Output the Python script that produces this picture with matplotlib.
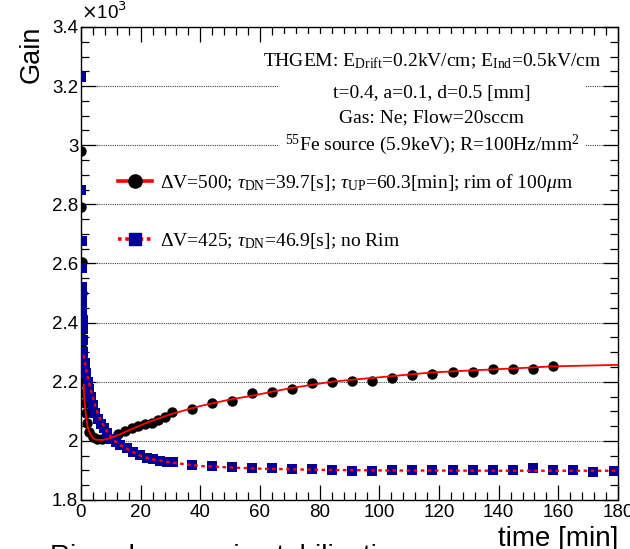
import matplotlib
matplotlib.use("Agg")
import matplotlib.pyplot as plt
from matplotlib.lines import Line2D
from matplotlib.patches import Rectangle
from matplotlib.ticker import MultipleLocator, FuncFormatter

plt.rcParams['font.family'] = ['Liberation Sans', 'DejaVu Sans']
plt.rcParams['mathtext.fontset'] = 'custom'
plt.rcParams['mathtext.rm'] = 'Liberation Serif'
plt.rcParams['mathtext.it'] = 'Liberation Serif:italic'

# dV = 500 V, rim of 100 um
t500 = [0.05, 0.1, 0.2, 0.3, 0.4, 0.5, 0.55, 0.65, 0.8, 1.0, 1.3, 1.6, 2.0, 2.6,
        3.9, 5.4, 7.0, 9.3, 12.4, 14.7, 17.1, 19.1, 21.5, 23.7, 25.9, 28.2, 30.4,
        37.1, 43.8, 50.5, 57.2, 63.9, 70.6, 77.3, 84.0, 90.7, 97.4, 104.1, 110.8,
        117.5, 124.8, 131.5, 138.2, 144.9, 151.6, 158.3]
g500 = [2980, 2790, 2606, 2500, 2348, 2314, 2274, 2240, 2200, 2162, 2128, 2094, 2060, 2030,
        2013, 2006, 2006, 2010, 2023, 2033, 2042, 2050, 2056, 2060, 2072, 2080, 2097,
        2108, 2127, 2136, 2161, 2164, 2174, 2195, 2198, 2203, 2202, 2212, 2222,
        2225, 2233, 2232, 2244, 2242, 2242, 2253]

# dV = 425 V, no rim
t425 = [0.05, 0.1, 0.2, 0.3, 0.35, 0.4, 0.45, 0.5, 0.55, 0.6, 0.65, 0.7, 1.3, 1.8, 2.3, 2.8,
        3.4, 4.1, 4.8, 5.6, 6.6, 7.6, 8.8, 10.2, 11.8, 13.1, 15.3, 17.5, 19.8, 22.0,
        24.2, 26.5, 28.7, 30.9, 37.1, 43.8, 50.5, 57.2, 63.9, 70.6, 77.3, 84.0, 90.7,
        97.4, 104.1, 110.8, 117.5, 124.8, 131.5, 138.2, 144.9, 151.6, 158.3, 165.0,
        171.7, 178.6]
g425 = [3231, 2849, 2676, 2585, 2520, 2500, 2470, 2440, 2410, 2380, 2340, 2300, 2262, 2230, 2200, 2175,
        2150, 2121, 2095, 2075, 2058, 2042, 2025, 2008, 1995, 1986, 1975, 1964, 1952, 1943,
        1938, 1933, 1930, 1928, 1918, 1915, 1913, 1909, 1909, 1904, 1906, 1902, 1898,
        1898, 1902, 1901, 1900, 1901, 1900, 1900, 1900, 1909, 1901, 1900, 1895,
        1899]

# fit curves (sampled)
fit500_t = [0.9, 1.1, 1.4, 1.8, 2.3, 3.0, 3.9, 5.0, 7.3, 10, 13, 18.4, 23, 30, 40, 50,
            57, 70, 84, 90, 100, 117, 130, 145, 158, 180]
fit500_g = [2190, 2150, 2110, 2075, 2045, 2025, 2010, 2004, 2003, 2010, 2022, 2046, 2065,
            2090, 2118, 2140, 2152, 2178, 2200, 2206, 2215, 2231, 2238, 2245, 2252, 2257]
fit425_t = [0.9, 1.34, 1.9, 2.5, 3.0, 3.6, 4.7, 5.8, 6.9, 8.0, 9.2, 10.8, 13.1, 15.3,
            17.5, 20, 22, 24.2, 26.5, 29, 31, 40, 50, 60, 80, 100, 140, 180]
fit425_g = [2290, 2265, 2232, 2205, 2183, 2160, 2121, 2088, 2063, 2045, 2025, 2004, 1986,
            1973, 1962, 1950, 1943, 1937, 1933, 1929, 1926, 1915, 1910, 1906, 1902, 1900,
            1899, 1899]

label500 = (r"$\Delta$V=500; $\tau_{\rm DN}$=39.7[s]; $\tau_{\rm UP}$=60.3[min]; "
            r"rim of 100$\mu$m")
label425 = r"$\Delta$V=425; $\tau_{\rm DN}$=46.9[s]; no Rim"
info_lines = [r"THGEM: E$_{\rm Drift}$=0.2kV/cm; E$_{\rm Ind}$=0.5kV/cm",
              "t=0.4, a=0.1, d=0.5 [mm]",
              "Gas: Ne; Flow=20sccm",
              r"$^{55}$Fe source (5.9keV); R=100Hz/mm$^{2}$"]

W, H = 630, 549
fig = plt.figure(figsize=(W / 100, H / 100), dpi=100)
ax = fig.add_axes([81 / W, 49 / H, 537 / W, 473 / H])

blue = '#000099'
ax.plot(t500, g500, 'o', color='black', ms=7.5, mew=0, zorder=4)
ax.plot(t425, g425, 's', color=blue, ms=6.8, mew=0, zorder=4)
ax.plot(fit500_t, fit500_g, '-', color='red', lw=1.3, zorder=5)
ax.plot(fit425_t, fit425_g, color='red', lw=1.7, ls=(0, (1.5, 1.5)), zorder=5)

ax.set_xlim(0, 180)
ax.set_ylim(1800, 3400)
for y in range(2000, 3400, 200):
    ax.axhline(y, color='0.25', lw=0.8, ls=(0, (1, 1)), zorder=1)

ax.xaxis.set_major_locator(MultipleLocator(20))
ax.xaxis.set_minor_locator(MultipleLocator(4))
ax.yaxis.set_major_locator(MultipleLocator(200))
ax.yaxis.set_minor_locator(MultipleLocator(50))
ax.yaxis.set_major_formatter(FuncFormatter(lambda v, p: '%g' % (v / 1000)))
ax.tick_params(which='both', direction='in', top=True, right=True, labelsize=13.5)
ax.tick_params(which='major', length=11, width=0.9)
ax.tick_params(which='minor', length=5.5, width=0.9)
ax.tick_params(axis='y', pad=2)
ax.tick_params(axis='x', pad=3)
for s in ax.spines.values():
    s.set_linewidth(1.0)

# white pave behind the run conditions
ax.add_patch(Rectangle((0.369, 0.71), 0.57, 0.275, transform=ax.transAxes,
                       facecolor='white', edgecolor='none', zorder=2.5))
for txt, yb in zip(info_lines, [0.9175, 0.8499, 0.7992, 0.7400]):
    ax.text(0.6536, yb, txt, transform=ax.transAxes, ha='center', va='baseline',
            fontsize=14, family='Liberation Serif', zorder=6)

handles = [Line2D([], [], color='red', lw=2.6, marker='o', mfc='black', mec='black', ms=9.5),
           Line2D([], [], color='red', lw=2.6, ls=(0, (1, 1)), marker='s', mfc=blue,
                  mec=blue, ms=9)]
leg = ax.legend(handles, [label500, label425], loc='upper left',
                bbox_to_anchor=(118 / W, (H - 172) / H), bbox_transform=fig.transFigure,
                frameon=False, borderpad=0, borderaxespad=0, handlelength=1.75,
                handletextpad=0.4, labelspacing=1.9, numpoints=1,
                prop={'family': 'Liberation Serif', 'size': 14})

fig.text(32 / W, 1 - 26 / H, 'Gain', rotation=90, ha='center', va='top', fontsize=19.5)
fig.text(81 / W, 1 - 23 / H, r'$\times$10$^{3}$', ha='left', va='bottom', fontsize=13.5,
         math_fontfamily='dejavusans')
fig.text(618 / W, 1 - 526 / H, 'time [min]', ha='right', va='top', fontsize=20, zorder=6)
fig.text(50 / W, 1 - 544 / H, 'Rim: slower gain stabilization', ha='left',
         va='top', fontsize=20, zorder=5)

fig.savefig('out.png', dpi=100)
